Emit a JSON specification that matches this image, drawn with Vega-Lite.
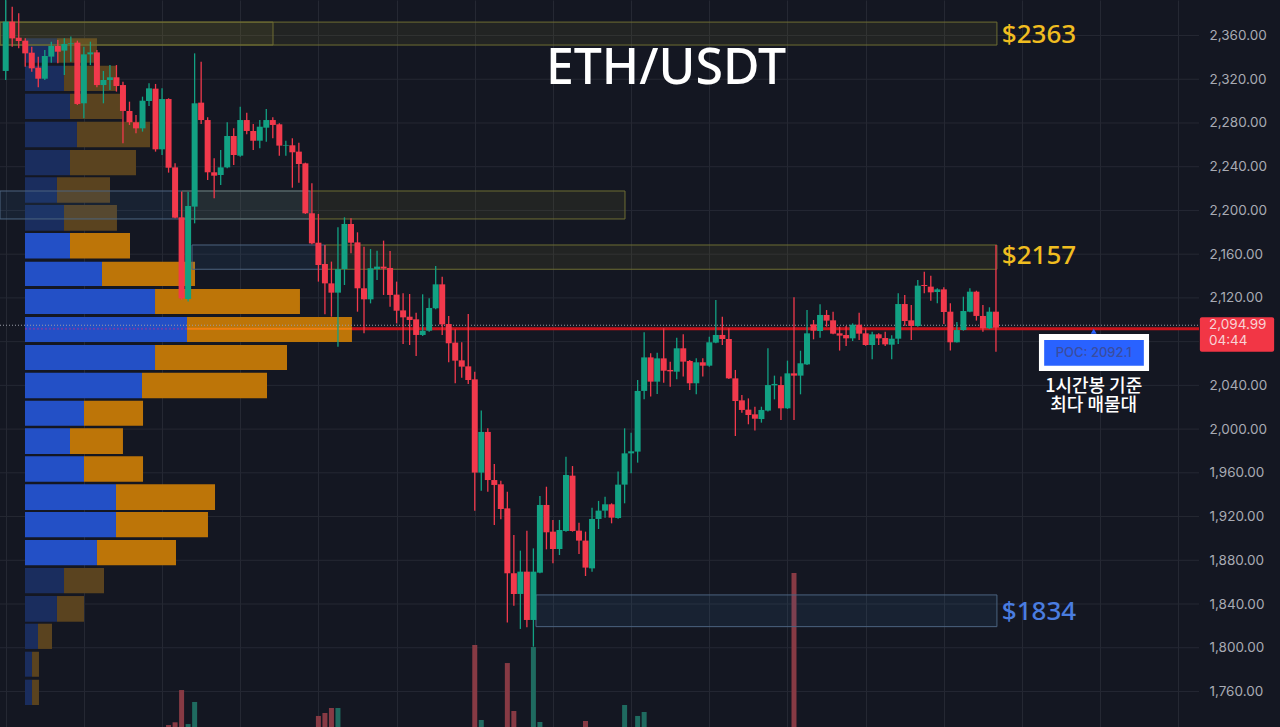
{
"$schema":"https://vega.github.io/schema/vega-lite/v6.json",
"width":1280,"height":727,"padding":0,"autosize":{"type":"none"},
"background":"#141722",
"view":{"stroke":null},
"resolve":{"scale":{"color":"independent","fill":"independent","stroke":"independent"}},
"datasets":{
"candles":[
{"i":0,"o":2327.6,"c":2372.7,"h":2392.5,"l":2319.3},{"i":1,"o":2372.7,"c":2357.4,"h":2386.4,"l":2349.8},{"i":2,"o":2358.0,"c":2355.0,"h":2380.3,"l":2348.3},{"i":3,"o":2355.3,"c":2343.7,"h":2357.4,"l":2331.5},{"i":4,"o":2344.3,"c":2330.0,"h":2349.8,"l":2326.9},{"i":5,"o":2330.6,"c":2320.5,"h":2340.7,"l":2312.6},{"i":6,"o":2320.5,"c":2341.3,"h":2346.8,"l":2319.3},{"i":7,"o":2340.7,"c":2350.4,"h":2354.4,"l":2335.2},{"i":8,"o":2350.4,"c":2345.2,"h":2355.9,"l":2334.6},{"i":9,"o":2346.2,"c":2352.3,"h":2357.4,"l":2323.9},
{"i":10,"o":2352.3,"c":2352.9,"h":2359.0,"l":2336.1},{"i":11,"o":2353.5,"c":2297.4,"h":2355.3,"l":2296.5},{"i":12,"o":2298.0,"c":2342.8,"h":2349.8,"l":2284.3},{"i":13,"o":2342.8,"c":2344.6,"h":2354.4,"l":2333.0},{"i":14,"o":2344.6,"c":2314.7,"h":2346.8,"l":2312.6},{"i":15,"o":2314.7,"c":2319.3,"h":2327.6,"l":2298.0},{"i":16,"o":2319.3,"c":2321.8,"h":2333.0,"l":2310.2},{"i":17,"o":2321.8,"c":2313.8,"h":2333.0,"l":2308.7},{"i":18,"o":2314.7,"c":2291.0,"h":2317.8,"l":2261.4},{"i":19,"o":2291.0,"c":2280.6,"h":2299.5,"l":2278.2},
{"i":20,"o":2280.6,"c":2275.1,"h":2287.3,"l":2270.5},{"i":21,"o":2275.1,"c":2300.4,"h":2304.1,"l":2272.1},{"i":22,"o":2300.1,"c":2311.7,"h":2316.3,"l":2295.5},{"i":23,"o":2311.4,"c":2255.9,"h":2315.7,"l":2253.8},{"i":24,"o":2255.9,"c":2301.9,"h":2311.7,"l":2250.7},{"i":25,"o":2301.9,"c":2239.1,"h":2302.6,"l":2234.6},{"i":26,"o":2239.4,"c":2193.4,"h":2243.1,"l":2192.8},{"i":27,"o":2193.7,"c":2119.6,"h":2217.2,"l":2118.1},{"i":28,"o":2119.0,"c":2204.1,"h":2217.2,"l":2116.6},{"i":29,"o":2203.5,"c":2298.0,"h":2343.7,"l":2188.2},
{"i":30,"o":2298.6,"c":2282.7,"h":2336.1,"l":2279.1},{"i":31,"o":2282.7,"c":2234.9,"h":2285.2,"l":2227.9},{"i":32,"o":2234.9,"c":2231.8,"h":2247.7,"l":2211.1},{"i":33,"o":2232.4,"c":2239.4,"h":2255.3,"l":2223.3},{"i":34,"o":2239.4,"c":2268.1,"h":2280.6,"l":2238.5},{"i":35,"o":2268.1,"c":2250.7,"h":2275.1,"l":2241.6},{"i":36,"o":2250.1,"c":2282.7,"h":2294.9,"l":2249.2},{"i":37,"o":2282.7,"c":2272.7,"h":2289.4,"l":2269.6},{"i":38,"o":2272.7,"c":2263.8,"h":2279.1,"l":2255.3},{"i":39,"o":2263.8,"c":2276.6,"h":2282.7,"l":2256.8},
{"i":40,"o":2275.7,"c":2282.7,"h":2292.8,"l":2262.9},{"i":41,"o":2282.7,"c":2278.2,"h":2285.2,"l":2266.0},{"i":42,"o":2278.8,"c":2259.3,"h":2279.7,"l":2250.1},{"i":43,"o":2259.3,"c":2259.9,"h":2263.8,"l":2250.1},{"i":44,"o":2259.6,"c":2253.2,"h":2266.0,"l":2220.8},{"i":45,"o":2253.8,"c":2242.5,"h":2262.0,"l":2225.4},{"i":46,"o":2243.1,"c":2197.4,"h":2243.7,"l":2196.8},{"i":47,"o":2197.4,"c":2169.9,"h":2224.8,"l":2169.0},{"i":48,"o":2170.5,"c":2150.1,"h":2196.8,"l":2134.9},{"i":49,"o":2151.0,"c":2133.3,"h":2168.4,"l":2105.0},
{"i":50,"o":2133.3,"c":2124.8,"h":2153.2,"l":2102.8},{"i":51,"o":2124.8,"c":2146.4,"h":2184.6,"l":2075.4},{"i":52,"o":2146.4,"c":2187.6,"h":2193.7,"l":2131.8},{"i":53,"o":2187.6,"c":2170.5,"h":2192.8,"l":2160.8},{"i":54,"o":2170.8,"c":2128.8,"h":2180.0,"l":2107.4},{"i":55,"o":2128.8,"c":2118.7,"h":2166.9,"l":2087.6},{"i":56,"o":2118.7,"c":2147.1,"h":2164.7,"l":2115.0},{"i":57,"o":2146.4,"c":2148.6,"h":2163.2,"l":2136.4},{"i":58,"o":2148.6,"c":2146.8,"h":2172.4,"l":2122.7},{"i":59,"o":2147.4,"c":2122.7,"h":2162.9,"l":2112.0},
{"i":60,"o":2123.0,"c":2108.3,"h":2134.9,"l":2096.7},{"i":61,"o":2108.6,"c":2102.2,"h":2124.2,"l":2077.8},{"i":62,"o":2102.8,"c":2099.8,"h":2123.6,"l":2076.9},{"i":63,"o":2100.4,"c":2086.1,"h":2106.5,"l":2066.9},{"i":64,"o":2086.1,"c":2090.0,"h":2123.3,"l":2085.2},{"i":65,"o":2090.0,"c":2110.8,"h":2119.6,"l":2089.1},{"i":66,"o":2110.5,"c":2132.4,"h":2149.2,"l":2109.6},{"i":67,"o":2132.4,"c":2095.8,"h":2139.4,"l":2086.1},{"i":68,"o":2096.1,"c":2078.5,"h":2103.5,"l":2061.1},{"i":69,"o":2079.1,"c":2062.6,"h":2091.3,"l":2041.9},
{"i":70,"o":2062.9,"c":2057.1,"h":2079.4,"l":2047.0},{"i":71,"o":2057.4,"c":2044.9,"h":2105.3,"l":2041.3},{"i":72,"o":2045.5,"c":1960.2,"h":2052.5,"l":1925.4},{"i":73,"o":1960.2,"c":1997.4,"h":2016.9,"l":1943.7},{"i":74,"o":1997.4,"c":1953.4,"h":2000.7,"l":1942.8},{"i":75,"o":1953.4,"c":1948.9,"h":1968.1,"l":1912.3},{"i":76,"o":1949.5,"c":1926.9,"h":1952.8,"l":1917.5},{"i":77,"o":1927.5,"c":1868.1,"h":1942.8,"l":1823.2},{"i":78,"o":1868.1,"c":1849.2,"h":1903.1,"l":1838.5},{"i":79,"o":1849.2,"c":1869.6,"h":1888.8,"l":1817.2},
{"i":80,"o":1869.6,"c":1825.4,"h":1907.1,"l":1818.7},{"i":81,"o":1825.4,"c":1869.6,"h":1890.9,"l":1801.0},{"i":82,"o":1868.7,"c":1930.6,"h":1938.8,"l":1868.1},{"i":83,"o":1930.6,"c":1905.6,"h":1947.3,"l":1890.0},{"i":84,"o":1906.2,"c":1890.3,"h":1916.9,"l":1877.2},{"i":85,"o":1890.3,"c":1907.7,"h":1916.9,"l":1884.8},{"i":86,"o":1906.8,"c":1958.0,"h":1974.8,"l":1906.2},{"i":87,"o":1957.4,"c":1906.8,"h":1966.2,"l":1906.2},{"i":88,"o":1907.1,"c":1898.0,"h":1914.4,"l":1885.8},{"i":89,"o":1898.0,"c":1873.3,"h":1906.2,"l":1865.6},
{"i":90,"o":1872.6,"c":1917.8,"h":1928.1,"l":1869.6},{"i":91,"o":1917.8,"c":1925.4,"h":1934.3,"l":1908.6},{"i":92,"o":1925.4,"c":1931.2,"h":1938.2,"l":1919.0},{"i":93,"o":1931.2,"c":1919.0,"h":1932.1,"l":1913.8},{"i":94,"o":1918.7,"c":1949.2,"h":1961.1,"l":1918.1},{"i":95,"o":1949.2,"c":1977.8,"h":2000.7,"l":1932.1},{"i":96,"o":1977.8,"c":1979.7,"h":1996.7,"l":1959.5},{"i":97,"o":1979.4,"c":2034.9,"h":2044.9,"l":1969.3},{"i":98,"o":2034.9,"c":2065.6,"h":2088.5,"l":2027.2},{"i":99,"o":2065.6,"c":2043.4,"h":2069.3,"l":2029.7},
{"i":100,"o":2043.4,"c":2064.7,"h":2069.9,"l":2032.1},{"i":101,"o":2064.7,"c":2053.4,"h":2092.2,"l":2042.5},{"i":102,"o":2054.1,"c":2052.8,"h":2061.7,"l":2038.8},{"i":103,"o":2052.5,"c":2073.9,"h":2083.6,"l":2045.5},{"i":104,"o":2073.9,"c":2061.7,"h":2086.7,"l":2048.0},{"i":105,"o":2062.3,"c":2041.9,"h":2063.2,"l":2035.8},{"i":106,"o":2041.9,"c":2061.1,"h":2064.7,"l":2031.8},{"i":107,"o":2061.1,"c":2058.0,"h":2064.7,"l":2048.0},{"i":108,"o":2058.0,"c":2079.4,"h":2084.5,"l":2057.1},{"i":109,"o":2079.1,"c":2086.1,"h":2118.1,"l":2078.5},
{"i":110,"o":2086.1,"c":2082.4,"h":2102.8,"l":2076.9},{"i":111,"o":2082.4,"c":2046.4,"h":2092.2,"l":2045.8},{"i":112,"o":2046.4,"c":2025.7,"h":2054.1,"l":1993.7},{"i":113,"o":2026.3,"c":2017.5,"h":2031.2,"l":2015.0},{"i":114,"o":2017.8,"c":2012.9,"h":2028.1,"l":2004.4},{"i":115,"o":2013.5,"c":2009.5,"h":2020.5,"l":1998.6},{"i":116,"o":2009.2,"c":2017.5,"h":2020.5,"l":2005.9},{"i":117,"o":2016.9,"c":2040.3,"h":2073.9,"l":2016.0},{"i":118,"o":2040.0,"c":2041.3,"h":2048.9,"l":2027.2},{"i":119,"o":2040.3,"c":2019.0,"h":2048.0,"l":2008.3},
{"i":120,"o":2019.0,"c":2051.0,"h":2062.6,"l":2018.4},{"i":121,"o":2051.0,"c":2048.9,"h":2120.5,"l":2008.3},{"i":122,"o":2048.9,"c":2060.2,"h":2071.7,"l":2031.8},{"i":123,"o":2059.2,"c":2087.6,"h":2108.9,"l":2058.6},{"i":124,"o":2095.8,"c":2090.0,"h":2099.8,"l":2082.1},{"i":125,"o":2089.7,"c":2104.4,"h":2114.1,"l":2083.6},{"i":126,"o":2104.4,"c":2099.2,"h":2108.9,"l":2093.7},{"i":127,"o":2099.5,"c":2087.3,"h":2107.4,"l":2086.7},{"i":128,"o":2087.6,"c":2085.5,"h":2093.7,"l":2071.8},{"i":129,"o":2086.1,"c":2083.0,"h":2094.3,"l":2076.0},
{"i":130,"o":2083.0,"c":2095.5,"h":2096.7,"l":2080.6},{"i":131,"o":2095.5,"c":2087.3,"h":2106.5,"l":2081.5},{"i":132,"o":2087.6,"c":2076.9,"h":2092.2,"l":2076.3},{"i":133,"o":2076.9,"c":2086.7,"h":2089.1,"l":2063.8},{"i":134,"o":2086.7,"c":2083.0,"h":2087.6,"l":2076.9},{"i":135,"o":2083.3,"c":2077.5,"h":2089.1,"l":2076.0},{"i":136,"o":2077.2,"c":2082.7,"h":2085.8,"l":2063.8},{"i":137,"o":2082.7,"c":2114.4,"h":2124.2,"l":2077.8},{"i":138,"o":2114.4,"c":2098.9,"h":2122.7,"l":2094.6},{"i":139,"o":2099.5,"c":2094.3,"h":2113.5,"l":2081.5},
{"i":140,"o":2094.3,"c":2131.2,"h":2136.4,"l":2093.7},{"i":141,"o":2131.8,"c":2130.9,"h":2144.0,"l":2124.2},{"i":142,"o":2130.3,"c":2125.1,"h":2140.3,"l":2117.5},{"i":143,"o":2125.4,"c":2127.8,"h":2128.8,"l":2115.0},{"i":144,"o":2127.8,"c":2107.1,"h":2129.7,"l":2096.1},{"i":145,"o":2107.4,"c":2079.4,"h":2115.0,"l":2071.8},{"i":146,"o":2079.4,"c":2090.6,"h":2098.0,"l":2079.1},{"i":147,"o":2090.6,"c":2108.0,"h":2121.1,"l":2090.0},{"i":148,"o":2107.4,"c":2125.7,"h":2128.8,"l":2106.8},{"i":149,"o":2125.7,"c":2103.5,"h":2126.6,"l":2099.2},
{"i":150,"o":2103.5,"c":2092.2,"h":2113.5,"l":2089.1},{"i":151,"o":2092.2,"c":2107.4,"h":2111.4,"l":2091.6},{"i":152,"o":2107.4,"c":2092.8,"h":2168.4,"l":2070.8}
],
"profile":[
{"hi":2357.5,"lo":2335.2,"start":2.96,"buy":7.87,"total":14.01,"zone":"outer"},
{"hi":2332.4,"lo":2309.3,"start":2.96,"buy":8.95,"total":17.08,"zone":"outer"},
{"hi":2306.8,"lo":2283.7,"start":2.96,"buy":9.87,"total":17.85,"zone":"outer"},
{"hi":2281.2,"lo":2257.8,"start":2.96,"buy":10.94,"total":22.15,"zone":"outer"},
{"hi":2255.3,"lo":2232.1,"start":2.96,"buy":9.87,"total":20.0,"zone":"outer"},
{"hi":2230.3,"lo":2207.1,"start":2.96,"buy":7.87,"total":16.01,"zone":"outer"},
{"hi":2205.0,"lo":2181.5,"start":2.96,"buy":8.95,"total":17.08,"zone":"outer"},
{"hi":2179.4,"lo":2156.0,"start":2.96,"buy":9.87,"total":19.08,"zone":"value"},
{"hi":2153.1,"lo":2130.9,"start":2.96,"buy":14.78,"total":29.06,"zone":"value"},
{"hi":2128.2,"lo":2105.3,"start":2.96,"buy":22.92,"total":45.17,"zone":"value"},
{"hi":2102.5,"lo":2079.7,"start":2.96,"buy":27.83,"total":53.15,"zone":"value"},
{"hi":2076.9,"lo":2054.1,"start":2.96,"buy":22.92,"total":43.18,"zone":"value"},
{"hi":2051.6,"lo":2028.2,"start":2.96,"buy":20.92,"total":40.11,"zone":"value"},
{"hi":2026.0,"lo":2003.1,"start":2.96,"buy":12.02,"total":21.08,"zone":"value"},
{"hi":2000.7,"lo":1977.2,"start":2.96,"buy":9.87,"total":18.0,"zone":"value"},
{"hi":1975.1,"lo":1951.9,"start":2.96,"buy":12.02,"total":21.08,"zone":"value"},
{"hi":1949.5,"lo":1926.0,"start":2.96,"buy":16.93,"total":32.13,"zone":"value"},
{"hi":1924.2,"lo":1901.0,"start":2.96,"buy":16.93,"total":31.05,"zone":"value"},
{"hi":1898.6,"lo":1875.4,"start":2.96,"buy":14.01,"total":26.14,"zone":"value"},
{"hi":1872.9,"lo":1849.8,"start":2.96,"buy":8.95,"total":15.09,"zone":"outer"},
{"hi":1847.3,"lo":1823.8,"start":2.96,"buy":7.87,"total":12.02,"zone":"outer"},
{"hi":1822.0,"lo":1798.9,"start":2.96,"buy":4.96,"total":7.11,"zone":"outer"},
{"hi":1796.4,"lo":1773.5,"start":2.96,"buy":4.04,"total":5.11,"zone":"outer"},
{"hi":1770.8,"lo":1747.6,"start":2.96,"buy":4.04,"total":5.11,"zone":"outer"}
],
"volume":[
{"i":25,"top":1729.3,"base":1727.5,"side":"down"},{"i":26,"top":1731.8,"base":1727.5,"side":"down"},{"i":27,"top":1761.3,"base":1727.5,"side":"down"},{"i":28,"top":1730.2,"base":1727.5,"side":"up"},{"i":29,"top":1750.4,"base":1727.5,"side":"up"},
{"i":48,"top":1737.6,"base":1727.5,"side":"down"},{"i":49,"top":1740.3,"base":1727.5,"side":"down"},{"i":50,"top":1744.9,"base":1727.5,"side":"down"},{"i":51,"top":1744.9,"base":1727.5,"side":"up"},
{"i":72,"top":1802.5,"base":1727.5,"side":"down"},{"i":73,"top":1733.9,"base":1727.5,"side":"up"},{"i":77,"top":1786.0,"base":1727.5,"side":"down"},{"i":78,"top":1742.1,"base":1727.5,"side":"down"},
{"i":81,"top":1800.7,"base":1727.5,"side":"up"},{"i":82,"top":1732.1,"base":1727.5,"side":"up"},{"i":89,"top":1733.0,"base":1727.5,"side":"down"},
{"i":95,"top":1747.6,"base":1727.5,"side":"up"},{"i":97,"top":1737.6,"base":1727.5,"side":"up"},{"i":98,"top":1741.2,"base":1727.5,"side":"up"},{"i":121,"top":1868.4,"base":1727.5,"side":"down"}
],
"zones":[
{"x0":-0.875,"x1":152.15,"top":2372.3,"bot":2351.3,"kind":"sell"},
{"x0":-0.875,"x1":41.03,"top":2372.3,"bot":2351.3,"kind":"sell"},
{"x0":27.06,"x1":95.06,"top":2217.8,"bot":2192.2,"kind":"sell"},
{"x0":-0.875,"x1":46.71,"top":2217.8,"bot":2192.2,"kind":"buy"},
{"x0":49.0,"x1":152.15,"top":2168.4,"bot":2146.2,"kind":"sell"},
{"x0":28.6,"x1":49.0,"top":2168.4,"bot":2146.2,"kind":"buy"},
{"x0":81.4,"x1":152.15,"top":1848.3,"bot":1819.3,"kind":"buy"}
],
"levels":[
{"x0":-0.875,"x1":183.17,"p":1760},{"x0":-0.875,"x1":183.17,"p":1800},{"x0":-0.875,"x1":183.17,"p":1840},{"x0":-0.875,"x1":183.17,"p":1880},{"x0":-0.875,"x1":183.17,"p":1920},{"x0":-0.875,"x1":183.17,"p":1960},{"x0":-0.875,"x1":183.17,"p":2000},{"x0":-0.875,"x1":183.17,"p":2040},{"x0":-0.875,"x1":183.17,"p":2080},{"x0":-0.875,"x1":183.17,"p":2120},{"x0":-0.875,"x1":183.17,"p":2160},{"x0":-0.875,"x1":183.17,"p":2200},{"x0":-0.875,"x1":183.17,"p":2240},{"x0":-0.875,"x1":183.17,"p":2280},{"x0":-0.875,"x1":183.17,"p":2320},{"x0":-0.875,"x1":183.17,"p":2360}
]
},
"encoding":{
"x":{"type":"quantitative","scale":{"domain":[-0.875,195.6],"nice":false,"zero":false,"padding":0},
"axis":{"orient":"bottom","values":[0,12,24,36,48,60,72,84,96,108,120,132,144,156,168,180],"labels":false,"ticks":false,"domain":false,"title":null,"grid":true,"gridColor":"#252833"}},
"y":{"type":"quantitative","scale":{"domain":[1727.5,2392.5],"nice":false,"zero":false,"padding":0},
"axis":{"orient":"right","values":[1760,1800,1840,1880,1920,1960,2000,2040,2080,2120,2160,2200,2240,2280,2320,2360],"labelPadding":-71,"tickSize":0,"ticks":false,"domain":false,"title":null,"grid":false,"labelAlign":"left","labelColor":"#a8abb4","labelFont":"Inter","labelFontSize":13.5,"labelOverlap":false,"labelBound":false,"labelExpr":"datum.value==2080?'':format(datum.value,',.2f')"}}
},
"layer":[
{"data":{"name":"levels"},"mark":{"type":"rule","color":"#252833","strokeWidth":1},
"encoding":{"x":{"field":"x0"},"x2":{"field":"x1"},"y":{"field":"p"}}},
{"data":{"name":"profile"},"mark":{"type":"rect"},
"encoding":{"x":{"field":"start"},"x2":{"field":"buy"},"y":{"field":"hi"},"y2":{"field":"lo"},
"fill":{"field":"zone","type":"nominal","scale":{"domain":["value","outer"],"range":["#2350c6","#1a2d5e"]},"legend":null}}},
{"data":{"name":"profile"},"mark":{"type":"rect"},
"encoding":{"x":{"field":"buy"},"x2":{"field":"total"},"y":{"field":"hi"},"y2":{"field":"lo"},
"fill":{"field":"zone","type":"nominal","scale":{"domain":["value","outer"],"range":["#bd7508","#5a431f"]},"legend":null}}},
{"data":{"name":"volume"},"mark":{"type":"bar","size":5},
"encoding":{"x":{"field":"i"},"y":{"field":"top"},"y2":{"field":"base"},
"fill":{"field":"side","type":"nominal","scale":{"domain":["up","down"],"range":["#1f6b60","#873a44"]},"legend":null}}},
{"data":{"name":"zones"},"mark":{"type":"rect","fillOpacity":0.12,"strokeWidth":1},
"encoding":{"x":{"field":"x0"},"x2":{"field":"x1"},"y":{"field":"top"},"y2":{"field":"bot"},
"fill":{"field":"kind","type":"nominal","scale":{"domain":["sell","buy"],"range":["#8c802e","#3c76aa"]},"legend":null},
"stroke":{"field":"kind","type":"nominal","scale":{"domain":["sell","buy"],"range":["#6e6d33","#4c6480"]},"legend":null}}},
{"data":{"values":[{"x0":-0.875,"x1":183.17,"p":2094.99}]},"mark":{"type":"rule","color":"#9a9ca6","strokeWidth":1,"strokeDash":[1,2]},
"encoding":{"x":{"field":"x0"},"x2":{"field":"x1"},"y":{"field":"p"}}},
{"data":{"values":[{"x0":2.96,"x1":27.87,"p":2091.7}]},"mark":{"type":"rule","color":"#6a3fae","strokeWidth":2,"strokeDash":[2,2]},
"encoding":{"x":{"field":"x0"},"x2":{"field":"x1"},"y":{"field":"p"}}},
{"data":{"values":[{"x0":27.87,"x1":53.15,"p":2091.7}]},"mark":{"type":"rule","color":"#f07f10","strokeWidth":2},
"encoding":{"x":{"field":"x0"},"x2":{"field":"x1"},"y":{"field":"p"}}},
{"data":{"values":[{"x0":53.15,"x1":183.17,"p":2091.7}]},"mark":{"type":"rule","color":"#c8141c","strokeWidth":3},
"encoding":{"x":{"field":"x0"},"x2":{"field":"x1"},"y":{"field":"p"}}},
{"data":{"name":"candles"},"mark":{"type":"rule","strokeWidth":1.3},
"encoding":{"x":{"field":"i"},"y":{"field":"l"},"y2":{"field":"h"},
"color":{"condition":{"test":"datum.c>=datum.o","value":"#12a183"},"value":"#f2394c"}}},
{"data":{"name":"candles"},"mark":{"type":"bar","size":6},
"encoding":{"x":{"field":"i"},"y":{"field":"o"},"y2":{"field":"c"},
"color":{"condition":{"test":"datum.c>=datum.o","value":"#12a183"},"value":"#f2394c"}}},
{"data":{"values":[{"x0":183.3,"x1":194.7,"top":2102.2,"bot":2070.8}]},"mark":{"type":"rect","fill":"#f23645","cornerRadius":2},
"encoding":{"x":{"field":"x0"},"x2":{"field":"x1"},"y":{"field":"top"},"y2":{"field":"bot"}}},
{"data":{"values":[{"x":184.7,"y":2095.2,"t":"2,094.99"},{"x":184.7,"y":2080.6,"t":"04:44"}]},
"mark":{"type":"text","align":"left","baseline":"middle","font":"Inter","fontSize":13.5,"color":"#f8d3d6"},
"encoding":{"x":{"field":"x"},"y":{"field":"y"},"text":{"field":"t"}}},
{"data":{"values":[{"x0":158.6,"x1":175.5,"top":2087,"bot":2053.2}]},"mark":{"type":"rect","fill":"#ffffff"},
"encoding":{"x":{"field":"x0"},"x2":{"field":"x1"},"y":{"field":"top"},"y2":{"field":"bot"}}},
{"data":{"values":[{"x0":159.4,"x1":174.7,"top":2081.5,"bot":2058}]},"mark":{"type":"rect","fill":"#2962ff"},
"encoding":{"x":{"field":"x0"},"x2":{"field":"x1"},"y":{"field":"top"},"y2":{"field":"bot"}}},
{"data":{"values":[{"x":167,"y":2089.5}]},"mark":{"type":"point","shape":"triangle-up","filled":true,"size":35,"color":"#2962ff","opacity":1},
"encoding":{"x":{"field":"x"},"y":{"field":"y"}}},
{"data":{"values":[{"x":167,"y":2069.6,"t":"POC: 2092.1"}]},
"mark":{"type":"text","align":"center","baseline":"middle","font":"Inter","fontSize":13,"fontWeight":500,"color":"#3a4da0"},
"encoding":{"x":{"field":"x"},"y":{"field":"y"},"text":{"field":"t"}}},
{"data":{"values":[{"x":167,"y":2038.9,"t":"1시간봉 기준\n최다 매물대"}]},
"mark":{"type":"text","align":"center","baseline":"middle","font":"Noto Sans CJK KR","fontSize":18,"fontWeight":500,"color":"#ffffff","lineBreak":"\n","lineHeight":19},
"encoding":{"x":{"field":"x"},"y":{"field":"y"},"text":{"field":"t"}}},
{"data":{"values":[{"x":152.9,"y":2360.5,"t":"$2363"},{"x":152.9,"y":2158.4,"t":"$2157"}]},
"mark":{"type":"text","align":"left","baseline":"middle","font":"Noto Sans","fontSize":26,"fontWeight":500,"color":"#f0bd20"},
"encoding":{"x":{"field":"x"},"y":{"field":"y"},"text":{"field":"t"}}},
{"data":{"values":[{"x":152.9,"y":1832.7,"t":"$1834"}]},
"mark":{"type":"text","align":"left","baseline":"middle","font":"Noto Sans","fontSize":26,"fontWeight":500,"color":"#4a7de0"},
"encoding":{"x":{"field":"x"},"y":{"field":"y"},"text":{"field":"t"}}},
{"data":{"values":[{"x":101.35,"y":2329.8,"t":"ETH/USDT"}]},
"mark":{"type":"text","align":"center","baseline":"middle","font":"Noto Sans","fontSize":50,"fontWeight":500,"color":"#ffffff"},
"encoding":{"x":{"field":"x"},"y":{"field":"y"},"text":{"field":"t"}}}
]
}
